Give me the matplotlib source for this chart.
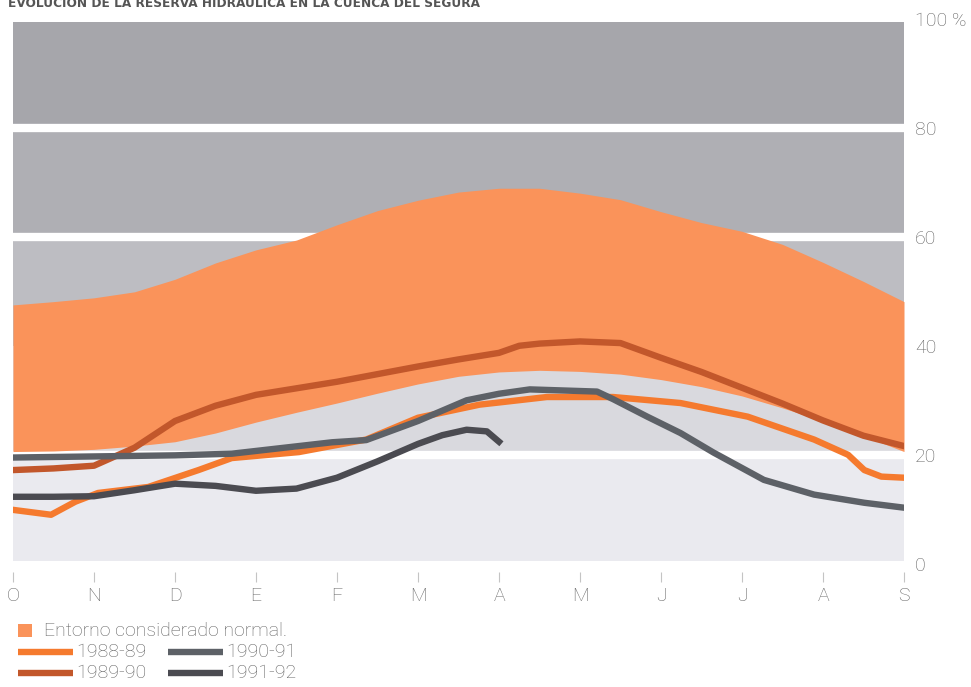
import numpy as np
import matplotlib.pyplot as plt
from matplotlib.lines import Line2D
from matplotlib.patches import Rectangle

# hydrological year, October -> September
months = ['O', 'N', 'D', 'E', 'F', 'M', 'A', 'M', 'J', 'J', 'A', 'S']

# "normal" envelope (half-month steps)
band_x = [0, 0.5, 1, 1.5, 2, 2.5, 3, 3.5, 4, 4.5, 5, 5.5,
          6, 6.5, 7, 7.5, 8, 8.5, 9, 9.5, 10, 10.5, 11]
band_high = [47.5, 48.1, 48.8, 49.9, 52.2, 55.2, 57.6, 59.4, 62.2, 64.8, 66.7, 68.2,
             68.9, 68.9, 68.0, 66.8, 64.6, 62.6, 61.0, 58.6, 55.3, 51.8, 48.1]
band_low = [20.6, 20.7, 21.0, 21.6, 22.4, 24.0, 26.0, 27.8, 29.5, 31.3, 33.0, 34.4,
            35.2, 35.5, 35.3, 34.8, 33.8, 32.5, 30.8, 28.6, 26.2, 23.5, 20.6]

# yearly series (% of capacity)
x_8889 = [0, 0.47, 0.77, 1.05, 1.67, 2.29, 2.7, 3.53, 4.36, 5.0, 5.76, 6.0,
          6.59, 7.41, 8.24, 9.07, 9.89, 10.31, 10.51, 10.72, 11.0]
y_8889 = [9.9, 9.0, 11.4, 13.0, 14.1, 17.2, 19.4, 20.5, 22.8, 26.8, 29.2, 29.6,
          30.6, 30.6, 29.5, 27.0, 22.8, 20.0, 17.2, 16.0, 15.8]

x_8990 = [0, 0.5, 1, 1.5, 2, 2.5, 3, 3.5, 4, 4.5, 5, 5.5, 6, 6.25,
          6.5, 7, 7.5, 8, 8.5, 9, 9.5, 10, 10.5, 11]
y_8990 = [17.2, 17.5, 18.0, 21.3, 26.2, 29.0, 31.0, 32.2, 33.4, 34.8, 36.2, 37.5, 38.7, 40.0,
          40.4, 40.8, 40.5, 37.8, 35.2, 32.3, 29.4, 26.3, 23.5, 21.6]

x_9091 = [0, 1, 2, 2.7, 3.94, 4.36, 5.0, 5.6, 6.0, 6.38, 7.21, 7.41,
          7.83, 8.24, 8.65, 9.27, 9.89, 10.51, 11.0]
y_9091 = [19.5, 19.7, 19.9, 20.2, 22.3, 22.7, 26.2, 30.0, 31.2, 32.0, 31.6, 30.2,
          27.0, 24.0, 20.4, 15.4, 12.7, 11.2, 10.3]

x_9192 = [0, 0.5, 1, 1.5, 2, 2.5, 3, 3.5, 4, 4.5, 5, 5.3, 5.6, 5.85, 6.0]
y_9192 = [12.3, 12.3, 12.4, 13.5, 14.7, 14.3, 13.4, 13.8, 15.8, 18.8, 22.0, 23.6, 24.6, 24.3, 22.4]

band_edges = [0.5, 20, 40, 60, 80, 99.4]
band_colors = ['#eaeaef', '#d9d9de', '#bdbdc2', '#afafb4', '#a6a6ab']

c_fill = '#fa935a'
c_8889 = '#f57a2e'
c_8990 = '#c2572b'
c_9091 = '#5d6167'
c_9192 = '#4b4b51'
c_text = '#626262'

plt.rcParams['font.family'] = ['Roboto', 'DejaVu Sans']
plt.rcParams['font.weight'] = 'light'

W, H = 971, 687
fig = plt.figure(figsize=(W / 100, H / 100), dpi=100)
ax = fig.add_axes([13 / W, 1 - 572 / H, (904 - 13) / W, (572 - 16) / H])
ax.set_xlim(0, 11)
ax.set_ylim(-1.5, 100.5)

# gray background bands with white separators (the one at 40 is hidden by the band)
for lo, hi, c in zip(band_edges[:-1], band_edges[1:], band_colors):
    ax.axhspan(lo, hi, color=c, lw=0, zorder=0)
for v in [20, 60, 80]:
    ax.axhline(v, color='white', lw=6, zorder=1)

ax.fill_between(band_x, band_low, band_high, color=c_fill, lw=0, zorder=2)

lw = 4.6
ax.plot(x_8889, y_8889, color=c_8889, lw=lw, solid_joinstyle='round', zorder=3)
ax.plot(x_8990, y_8990, color=c_8990, lw=lw, solid_joinstyle='round', zorder=3)
ax.plot(x_9091, y_9091, color=c_9091, lw=lw, solid_joinstyle='round', zorder=4)
ax.plot(x_9192, y_9192, color=c_9192, lw=lw, solid_joinstyle='round', zorder=4)

for s in ax.spines.values():
    s.set_visible(False)

ax.set_xticks(range(12))
ax.set_xticklabels(months)
ax.tick_params(axis='x', direction='out', length=7, width=0.8, color='#c4c4c4',
               pad=4, labelsize=14, labelcolor=c_text)

ax.yaxis.tick_right()
ax.set_yticks([0, 20, 40, 60, 80, 100])
ax.set_yticklabels(['0', '20', '40', '60', '80', '100 %'])
ax.tick_params(axis='y', length=0, pad=8, labelsize=14, labelcolor=c_text)

# title, cut off at the top edge like the scan
fig.text(8 / W, 1 - 7 / H, 'EVOLUCIÓN DE LA RESERVA HIDRÁULICA EN LA CUENCA DEL SEGURA',
         fontsize=8.7, fontweight='bold', color='#555555', va='baseline', ha='left',
         family=['DejaVu Sans'])

# legend
def fx(px):
    return px / W

def fy(py):
    return 1 - py / H

fig.add_artist(Rectangle((fx(18), fy(637)), 14 / W, 13 / H, color=c_fill, lw=0))
fig.text(fx(44), fy(631), 'Entorno considerado normal.', fontsize=14, color=c_text, va='center')

legend_items = [
    (18, 73, 652, c_8889, '1988-89'),
    (18, 73, 673, c_8990, '1989-90'),
    (168, 223, 652, c_9091, '1990-91'),
    (168, 223, 673, c_9192, '1991-92'),
]
for x0, x1, y, c, lab in legend_items:
    fig.add_artist(Line2D([fx(x0), fx(x1)], [fy(y), fy(y)], color=c, lw=lw,
                          solid_capstyle='butt'))
    fig.text(fx(x1 + 3), fy(y), lab, fontsize=14, color=c_text, va='center')

fig.savefig('out.png', dpi=100)
